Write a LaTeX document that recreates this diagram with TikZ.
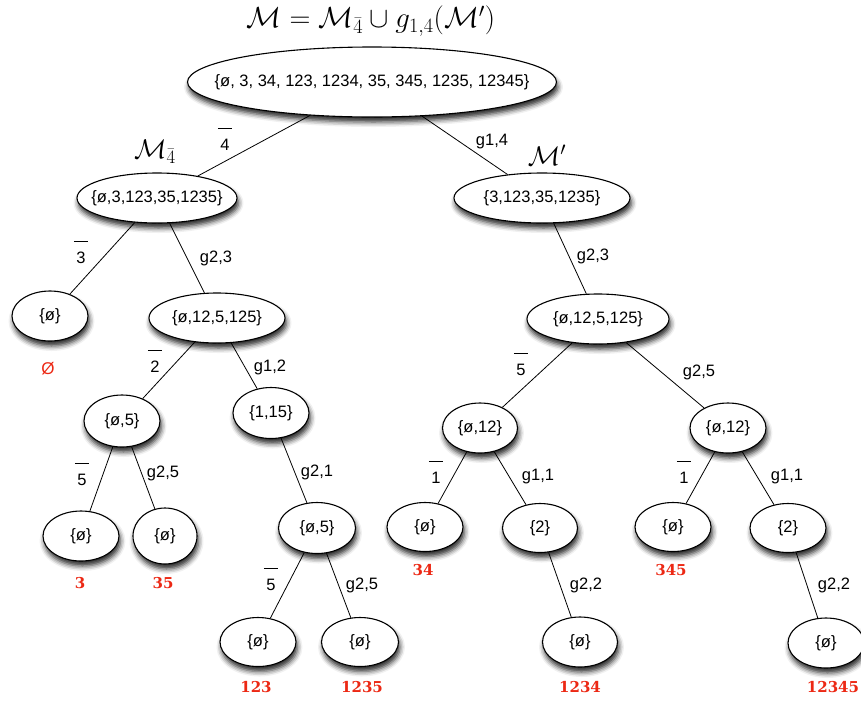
\RequirePackage{fix-cm}
\documentclass[tikz,border=0pt]{standalone}
\usepackage[no-math]{fontspec}
\setmainfont{Liberation Sans}
\newfontfamily\redfont{DejaVu Serif}
\usetikzlibrary{shapes.geometric,shadows.blur}
\definecolor{redlab}{RGB}{236,40,20}
\newcommand\ob[1]{\setbox0\hbox{#1}\vbox{\hbox to \wd0{\hss\vrule height 1pt depth 0pt width \dimexpr\wd0+5pt\relax\hss}\kern 3.5pt\box0}}
\newcommand\mk[1]{\makebox[0pt]{#1}}
\begin{document}
\begin{tikzpicture}[x=1pt,y=-1pt,
  set/.style={ellipse, draw, line width=1.1pt, fill=white, inner sep=0pt,
    font=\fontsize{16.5}{18}\selectfont,
    blur shadow={shadow xshift=1.5pt, shadow yshift=-5pt, shadow blur radius=5pt, shadow opacity=85}},
  lab/.style={font=\fontsize{16.5}{18}\selectfont, inner sep=0pt},
  res/.style={font=\redfont\bfseries\fontsize{15}{17}\selectfont, text=redlab, inner sep=0pt},
  mlab/.style={font=\fontsize{27}{30}\selectfont, inner sep=0pt},
  edge/.style={line width=0.8pt}]
\useasboundingbox (0,0) rectangle (861,702);

% title
\node[mlab, font=\fontsize{29}{32}\selectfont] (title) at (371,21) {$\mathcal{M}=\mathcal{M}_{\bar 4}\cup g_{1,4}(\mathcal{M}')$};

% nodes
\node[set, minimum width=369pt, minimum height=70pt] (A) at (372,82) {\mk{\{ø, 3, 34, 123, 1234, 35, 345, 1235, 12345\}}};
\node[set, minimum width=160pt, minimum height=50pt] (L) at (157,198) {\mk{\{ø,3,123,35,1235\}}};
\node[set, minimum width=176pt, minimum height=50pt] (R) at (542,198) {\mk{\{3,123,35,1235\}}};
\node[set, minimum width=76pt, minimum height=50pt] (L1) at (50,316) {\mk{\{ø\}}};
\node[set, minimum width=136pt, minimum height=50pt] (L2) at (217,318) {\mk{\{ø,12,5,125\}}};
\node[set, minimum width=76pt, minimum height=52pt] (L21) at (122,421) {\mk{\{ø,5\}}};
\node[set, minimum width=76pt, minimum height=51pt] (L22) at (271,413) {\mk{\{1,15\}}};
\node[set, minimum width=76pt, minimum height=50pt] (L211) at (81,536) {\mk{\{ø\}}};
\node[set, minimum width=64pt, minimum height=56pt] (L212) at (165,536) {\mk{\{ø\}}};
\node[set, minimum width=77pt, minimum height=51pt] (L221) at (317,528) {\mk{\{ø,5\}}};
\node[set, minimum width=76pt, minimum height=49pt] (L2211) at (258,642) {\mk{\{ø\}}};
\node[set, minimum width=77pt, minimum height=49pt] (L2212) at (360,642) {\mk{\{ø\}}};
\node[set, minimum width=142pt, minimum height=50pt] (R1) at (598,319) {\mk{\{ø,12,5,125\}}};
\node[set, minimum width=75pt, minimum height=50pt] (R11) at (480,428) {\mk{\{ø,12\}}};
\node[set, minimum width=76pt, minimum height=50pt] (R12) at (728,428) {\mk{\{ø,12\}}};
\node[set, minimum width=76pt, minimum height=49pt] (R111) at (425,527) {\mk{\{ø\}}};
\node[set, minimum width=75pt, minimum height=49pt] (R112) at (540,528) {\mk{\{2\}}};
\node[set, minimum width=75pt, minimum height=50pt] (R1121) at (580,642) {\mk{\{ø\}}};
\node[set, minimum width=76pt, minimum height=49pt] (R121) at (673,527) {\mk{\{ø\}}};
\node[set, minimum width=76pt, minimum height=49pt] (R122) at (788,528) {\mk{\{2\}}};
\node[set, minimum width=76pt, minimum height=50pt] (R1221) at (826,643) {\mk{\{ø\}}};

% edges
\draw[edge] (A) -- (L);
\draw[edge] (A) -- (R);
\draw[edge] (L) -- (L1);
\draw[edge] (L) -- (L2);
\draw[edge] (L2) -- (L21);
\draw[edge] (L2) -- (L22);
\draw[edge] (L21) -- (L211);
\draw[edge] (L21) -- (L212);
\draw[edge] (L22) -- (L221);
\draw[edge] (L221) -- (L2211);
\draw[edge] (L221) -- (L2212);
\draw[edge] (R) -- (R1);
\draw[edge] (R1) -- (R11);
\draw[edge] (R1) -- (R12);
\draw[edge] (R11) -- (R111);
\draw[edge] (R11) -- (R112);
\draw[edge] (R112) -- (R1121);
\draw[edge] (R12) -- (R121);
\draw[edge] (R12) -- (R122);
\draw[edge] (R122) -- (R1221);

% set labels
\node[mlab] (mL) at (155,152) {$\mathcal{M}_{\bar 4}$};
\node[mlab] (mR) at (547,155) {$\mathcal{M}'$};

% edge labels
\node[lab] (e1) at (225,139) {\ob{4}};
\node[lab] (e2) at (492,142) {g1,4};
\node[lab] (e3) at (81,252) {\ob{3}};
\node[lab] (e4) at (216,258) {g2,3};
\node[lab] (e5) at (155,361) {\ob{2}};
\node[lab] (e6) at (270,367) {g1,2};
\node[lab] (e7) at (82,474) {\ob{5}};
\node[lab] (e8) at (163,473) {g2,5};
\node[lab] (e9) at (317,472) {g2,1};
\node[lab] (e10) at (271,579) {\ob{5}};
\node[lab] (e11) at (362,585) {g2,5};
\node[lab] (e12) at (593,256) {g2,3};
\node[lab] (e13) at (521,364) {\ob{5}};
\node[lab] (e14) at (699,372) {g2,5};
\node[lab] (e15) at (436,472) {\ob{1}};
\node[lab] (e16) at (538,477) {g1,1};
\node[lab] (e17) at (586,585) {g2,2};
\node[lab] (e18) at (684,472) {\ob{1}};
\node[lab] (e19) at (787,477) {g1,1};
\node[lab] (e20) at (834,585) {g2,2};

% results
\node[inner sep=0pt, text=redlab, font=\fontsize{17}{19}\selectfont] (r0) at (48,369) {Ø};
\node[res] (r1) at (80,583) {3};
\node[res] (r2) at (163,583) {35};
\node[res] (r3) at (256,687) {123};
\node[res] (r4) at (362,687) {1235};
\node[res] (r5) at (423,570) {34};
\node[res] (r6) at (580,687) {1234};
\node[res] (r7) at (671,570) {345};
\node[res] (r8) at (833,687) {12345};
\end{tikzpicture}
\end{document}
